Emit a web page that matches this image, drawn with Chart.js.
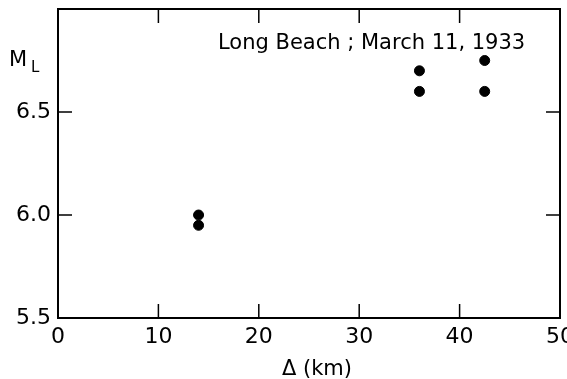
<!DOCTYPE html>
<html>
<head>
<meta charset="utf-8">
<script src="https://cdn.jsdelivr.net/npm/chart.js@4"></script>
<style>
  html, body { margin: 0; padding: 0; background: #fff; overflow: hidden; }
  #wrap { width: 567px; height: 379px; }
</style>
</head>
<body>
<div id="wrap"><canvas id="chart"></canvas></div>
<script>
// distance (km) and local magnitude
const distances = [14, 14, 36, 36, 42.5, 42.5];
const magnitudes = [6.0, 5.95, 6.7, 6.6, 6.75, 6.6];
const xTicks = [0, 10, 20, 30, 40, 50];
const yTicks = [5.5, 6.0, 6.5];
const titleText = 'Long Beach ; March 11, 1933';

const FONT = '"DejaVu Sans", sans-serif';

const framePlugin = {
    id: 'frame',
    afterDraw(chart) {
        const ctx = chart.ctx;
        const a = chart.chartArea;
        const xs = chart.scales.x, ys = chart.scales.y;
        ctx.save();
        ctx.strokeStyle = '#000';
        ctx.lineWidth = 2;
        ctx.strokeRect(a.left, a.top, a.right - a.left, a.bottom - a.top);

        // inward ticks on all four sides
        ctx.lineWidth = 1.5;
        ctx.beginPath();
        xTicks.forEach(v => {
            const px = xs.getPixelForValue(v);
            ctx.moveTo(px, a.bottom); ctx.lineTo(px, a.bottom - 14);
            ctx.moveTo(px, a.top); ctx.lineTo(px, a.top + 14);
        });
        yTicks.forEach(v => {
            const py = ys.getPixelForValue(v);
            ctx.moveTo(a.left, py); ctx.lineTo(a.left + 14, py);
            ctx.moveTo(a.right, py); ctx.lineTo(a.right - 14, py);
        });
        ctx.stroke();

        ctx.fillStyle = '#000';
        // tick labels
        ctx.font = '22px ' + FONT;
        ctx.textBaseline = 'middle';
        ctx.textAlign = 'center';
        xTicks.forEach(v => ctx.fillText(String(v), xs.getPixelForValue(v), a.bottom + 19));
        ctx.textAlign = 'right';
        yTicks.forEach(v => ctx.fillText(v.toFixed(1), a.left - 7, ys.getPixelForValue(v)));

        // title inside the plot
        ctx.font = '21px ' + FONT;
        ctx.textBaseline = 'alphabetic';
        ctx.textAlign = 'left';
        ctx.fillText(titleText, 218, 49);

        // y label M with subscript L
        ctx.fillText('M', 9, 66);
        ctx.font = '15px ' + FONT;
        ctx.fillText('L', 31, 72);

        // x label
        ctx.font = '21px ' + FONT;
        ctx.textAlign = 'center';
        ctx.fillText('\u0394 (km)', 317, 375);
        ctx.restore();
    }
};

new Chart(document.getElementById('chart'), {
    type: 'scatter',
    data: {
        datasets: [{
            data: distances.map((d, i) => ({ x: d, y: magnitudes[i] })),
            backgroundColor: '#000',
            borderColor: '#000',
            pointRadius: 5,
            pointHoverRadius: 5
        }]
    },
    options: {
        responsive: true,
        maintainAspectRatio: false,
        animation: false,
        layout: { padding: { top: 9, right: 7, left: 0, bottom: 0 } },
        plugins: {
            legend: { display: false },
            tooltip: { enabled: false }
        },
        scales: {
            x: {
                type: 'linear',
                min: 0,
                max: 50,
                afterBuildTicks: s => { s.ticks = xTicks.map(v => ({ value: v })); },
                afterFit: s => { s.height = 61; },
                grid: { display: false, drawTicks: false },
                border: { display: false },
                ticks: { display: false }
            },
            y: {
                type: 'linear',
                min: 5.5,
                max: 7.0,
                afterBuildTicks: s => { s.ticks = yTicks.map(v => ({ value: v })); },
                afterFit: s => { s.width = 58; },
                grid: { display: false, drawTicks: false },
                border: { display: false },
                ticks: { display: false }
            }
        }
    },
    plugins: [framePlugin]
});
</script>
</body>
</html>
